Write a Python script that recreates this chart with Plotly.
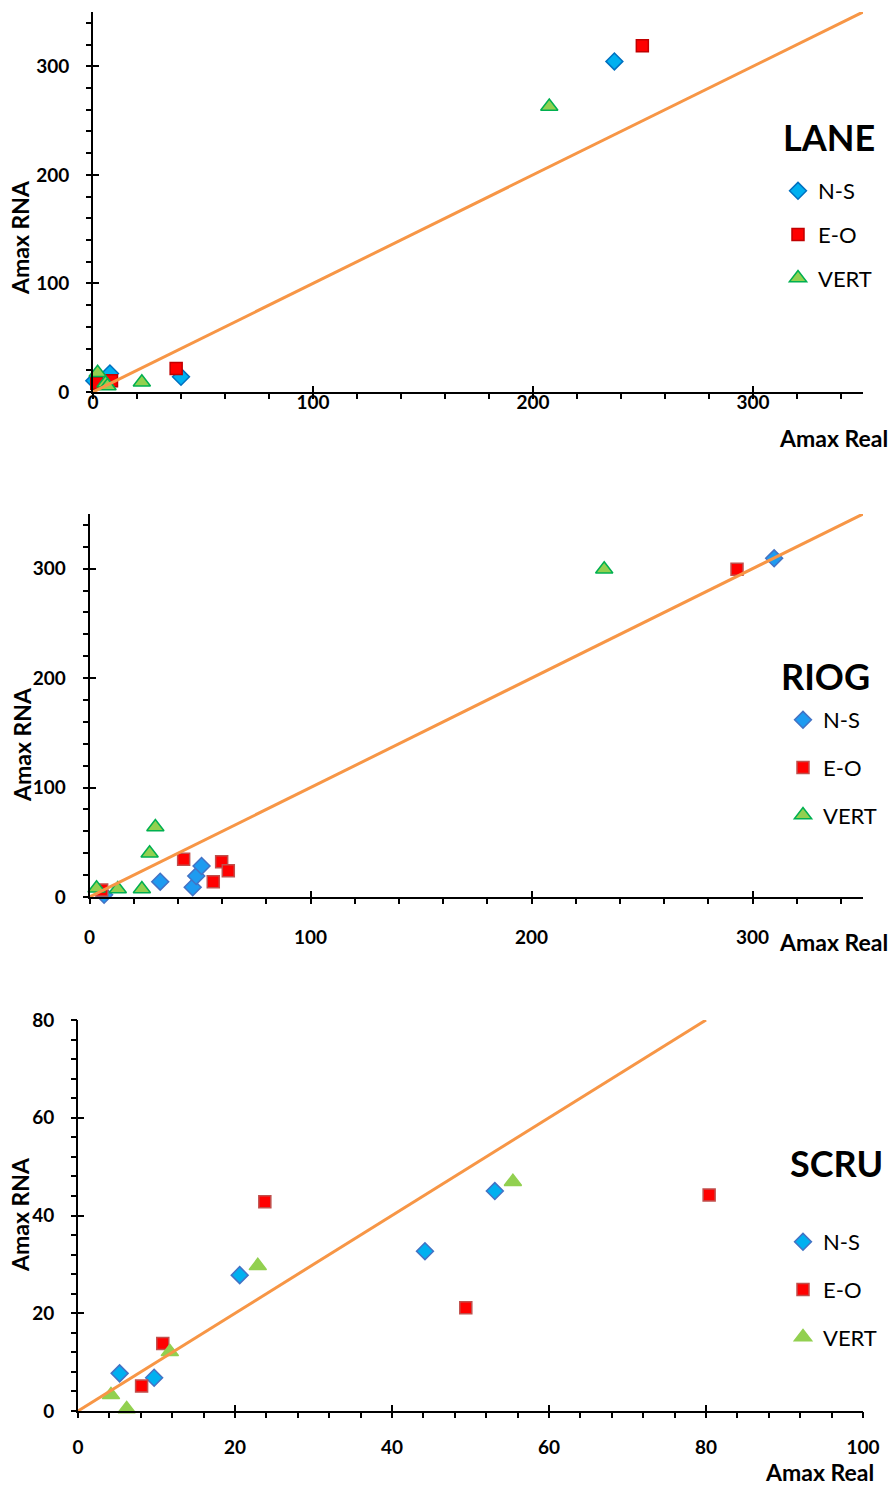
import plotly.graph_objects as go

W, H = 896, 1487

# ---------------- data ----------------
# LANE
lane_ns_x = [0.6, 7.7, 40.0, 237.0]
lane_ns_y = [10.4, 17.0, 14.0, 304.5]
lane_eo_x = [1.7, 8.4, 37.8, 249.7]
lane_eo_y = [8.0, 10.4, 21.7, 319.0]
lane_vert_x = [2.1, 5.7, 6.6, 22.2, 207.4]
lane_vert_y = [17.7, 8.0, 5.5, 9.0, 263.0]

# RIOG
riog_ns_x = [6.6, 32.0, 46.7, 48.3, 50.7, 309.8]
riog_ns_y = [2.0, 14.0, 8.9, 19.2, 28.3, 309.5]
riog_eo_x = [5.5, 42.6, 56.0, 59.8, 62.8, 293.0]
riog_eo_y = [6.4, 34.4, 14.0, 32.2, 24.0, 299.5]
riog_vert_x = [3.2, 12.8, 23.7, 27.2, 29.8, 232.9]
riog_vert_y = [8.0, 7.3, 7.3, 40.0, 64.0, 299.5]

# SCRU
scru_ns_x = [5.3, 9.7, 20.6, 44.2, 53.1]
scru_ns_y = [7.7, 6.8, 27.8, 32.7, 45.0]
scru_eo_x = [8.1, 10.8, 23.8, 49.4, 80.4]
scru_eo_y = [5.1, 13.8, 42.8, 21.1, 44.2]
scru_vert_x = [4.2, 6.2, 11.7, 22.9, 55.4]
scru_vert_y = [3.3, 0.4, 12.1, 29.7, 46.9]

# 1:1 lines
line12 = [0, 350]
line3 = [0, 80]

panel_names = ["LANE", "RIOG", "SCRU"]
series_names = ["N-S", "E-O", "VERT"]
x_ticks_12 = [0, 100, 200, 300]
y_ticks_12 = [0, 100, 200, 300]
x_ticks_3 = [0, 20, 40, 60, 80, 100]
y_ticks_3 = [0, 20, 40, 60, 80]

# ---------------- layout helpers ----------------
def px_x(p):
    return p / W

def px_y(p):
    return 1 - p / H

FONT = "Lato"
ORANGE = "#F79646"

panels = [
    dict(xd=[93, 863], yd=[392, 12], xr=[0, 350], yr=[0, 350], xt=x_ticks_12, yt=y_ticks_12,
         minor=20, xstand=0, xlabel_at=389, ystand=18,
         data=[(lane_ns_x, lane_ns_y), (lane_eo_x, lane_eo_y), (lane_vert_x, lane_vert_y)],
         line=line12, title_pos=(829, 137), real_pos=(890, 438), rna_pos=(20, 238),
         leg=(778, 170), gap=12,
         colors=[("#00B0F0", "#0070C0"), ("#FF0000", "#C00000"), ("#92D050", "#00B050")]),
    dict(xd=[89.5, 863], yd=[897, 514], xr=[0, 350], yr=[0, 350], xt=x_ticks_12, yt=y_ticks_12,
         minor=20, xstand=22, xlabel_at=None, ystand=18,
         data=[(riog_ns_x, riog_ns_y), (riog_eo_x, riog_eo_y), (riog_vert_x, riog_vert_y)],
         line=line12, title_pos=(825, 676), real_pos=(890, 942), rna_pos=(22, 745),
         leg=(783, 699), gap=16,
         colors=[("#1E9BF0", "#4472C4"), ("#FF0000", "#C0504D"), ("#92D050", "#00B050")]),
    dict(xd=[78, 863], yd=[1411, 1020], xr=[0, 100], yr=[0, 80], xt=x_ticks_3, yt=y_ticks_3,
         minor=4, xstand=18, xlabel_at=None, ystand=18,
         data=[(scru_ns_x, scru_ns_y), (scru_eo_x, scru_eo_y), (scru_vert_x, scru_vert_y)],
         line=line3, title_pos=(836, 1163), real_pos=(876, 1472), rna_pos=(20, 1215),
         leg=(783, 1221), gap=16,
         colors=[("#00B0F0", "#4472C4"), ("#FF0000", "#C0504D"), ("#92D050", "#92D050")]),
]

symbols = ["diamond", "square", "triangle-up"]
sizes = [13, 12, 15]

fig = go.Figure()
layout = dict(
    width=W, height=H, margin=dict(l=0, r=0, t=0, b=0, autoexpand=False),
    paper_bgcolor="white", plot_bgcolor="white",
    font=dict(family=FONT, color="black"),
    showlegend=True,
)
annotations = []
TICKFONT = dict(size=19, family=FONT, weight="bold")

for i, p in enumerate(panels):
    n = i + 1
    xa = "xaxis" if n == 1 else f"xaxis{n}"
    ya = "yaxis" if n == 1 else f"yaxis{n}"
    xref = "x" if n == 1 else f"x{n}"
    yref = "y" if n == 1 else f"y{n}"
    xo = f"x{n + 3}"
    yo = f"y{n + 3}"
    xdom = [px_x(p["xd"][0]), px_x(p["xd"][1])]
    ydom = [px_y(p["yd"][0]), px_y(p["yd"][1])]
    common = dict(showgrid=False, zeroline=False, tickcolor="black", tickwidth=1.8,
                  automargin=False)
    own_labels = p["xlabel_at"] is None
    # main axes: line, labels, inside half of major ticks, outside minor ticks
    layout[xa] = dict(domain=xdom, range=p["xr"], anchor=yref, tickmode="array", tickvals=p["xt"],
                      showline=True, linecolor="black", linewidth=2, ticks="inside", ticklen=6,
                      ticklabelstandoff=p["xstand"], showticklabels=own_labels,
                      tickfont=TICKFONT,
                      minor=dict(dtick=p["minor"], tick0=0, ticks="outside", ticklen=5,
                                 tickcolor="black", tickwidth=1.5),
                      **common)
    layout[ya] = dict(domain=ydom, range=p["yr"], anchor=xref, tickmode="array", tickvals=p["yt"],
                      showline=True, linecolor="black", linewidth=2, ticks="inside", ticklen=6,
                      ticklabelstandoff=p["ystand"],
                      tickfont=TICKFONT,
                      minor=dict(dtick=p["minor"], tick0=0, ticks="outside", ticklen=5,
                                 tickcolor="black", tickwidth=1.5),
                      **common)
    # overlay axes: outside half of the crossing major ticks
    layout[f"xaxis{n + 3}"] = dict(overlaying=xref, anchor=yref, range=p["xr"], tickmode="array",
                                   tickvals=p["xt"], ticks="outside", ticklen=6, showticklabels=False,
                                   showline=False, **common)
    layout[f"yaxis{n + 3}"] = dict(overlaying=yref, anchor=xref, range=p["yr"], tickmode="array",
                                   tickvals=p["yt"], ticks="outside", ticklen=6, showticklabels=False,
                                   showline=False, **common)
    fig.add_trace(go.Scatter(x=[None], y=[None], xaxis=xo, yaxis=yo, showlegend=False,
                             hoverinfo="skip", mode="markers"))

    if not own_labels:
        # free-positioned label-only axis (labels sit close under the axis line)
        lab = f"xaxis{n + 6}"
        layout[lab] = dict(overlaying=xref, anchor="free", position=px_y(p["xlabel_at"]),
                           domain=xdom, range=p["xr"], tickmode="array", tickvals=p["xt"],
                           ticks="", showline=False, showticklabels=True, tickfont=TICKFONT,
                           **common)
        fig.add_trace(go.Scatter(x=[None], y=[None], xaxis=f"x{n + 6}", yaxis=yref,
                                 showlegend=False, hoverinfo="skip", mode="markers"))

    legname = "legend" if n == 1 else f"legend{n}"
    for k, (sx, sy) in enumerate(p["data"]):
        fill, edge = p["colors"][k]
        fig.add_trace(go.Scatter(
            x=sx, y=sy, mode="markers", name=series_names[k],
            xaxis=xref, yaxis=yref, legend=legname, legendgroup=f"g{n}{k}",
            cliponaxis=False,
            marker=dict(symbol=symbols[k], size=sizes[k], color=fill,
                        line=dict(color=edge, width=1.5)),
        ))
    fig.add_trace(go.Scatter(x=p["line"], y=p["line"], mode="lines", xaxis=xref, yaxis=yref,
                             line=dict(color=ORANGE, width=3), showlegend=False,
                             hoverinfo="skip", cliponaxis=False))

    layout[legname] = dict(x=px_x(p["leg"][0]), y=px_y(p["leg"][1]), xanchor="left", yanchor="top",
                           font=dict(size=22, family=FONT), tracegroupgap=p["gap"],
                           itemwidth=30, bgcolor="rgba(0,0,0,0)")

    annotations.append(dict(text=f"<b>{panel_names[i]}</b>", x=px_x(p["title_pos"][0]),
                            y=px_y(p["title_pos"][1]), xref="paper", yref="paper",
                            showarrow=False, font=dict(size=36, family=FONT),
                            xanchor="center", yanchor="middle"))
    annotations.append(dict(text="<b>Amax Real</b>", x=px_x(p["real_pos"][0]),
                            y=px_y(p["real_pos"][1]), xref="paper", yref="paper",
                            showarrow=False, font=dict(size=23, family=FONT),
                            xanchor="right", yanchor="middle"))
    annotations.append(dict(text="<b>Amax RNA</b>", x=px_x(p["rna_pos"][0]),
                            y=px_y(p["rna_pos"][1]), xref="paper", yref="paper",
                            showarrow=False, font=dict(size=23, family=FONT), textangle=-90,
                            xanchor="center", yanchor="middle"))

layout["annotations"] = annotations
fig.update_layout(**layout)
fig.write_html("out.html", config={"displayModeBar": False},
               post_script="document.body.style.margin='0';document.body.style.overflow='hidden';")
